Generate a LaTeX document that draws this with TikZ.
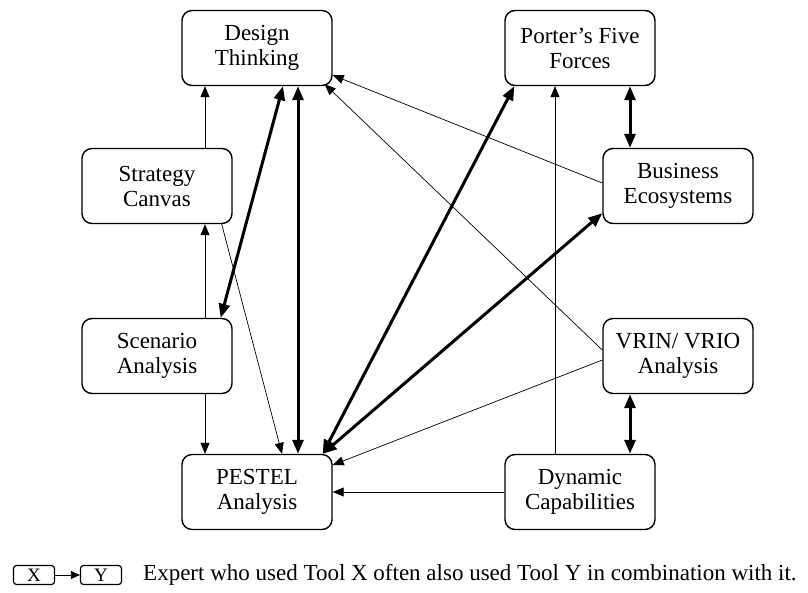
\documentclass[tikz,border=0pt]{standalone}
\usepackage{fontspec}
\setmainfont{Liberation Serif}
\usetikzlibrary{arrows.meta,positioning}
\tikzset{tool/.style={draw,line width=1.4pt,rounded corners=10pt,align=center,minimum width=150pt,minimum height=75pt,inner sep=2pt,font=\fontsize{23}{25}\selectfont},
  key/.style={draw,line width=1.2pt,rounded corners=3pt,minimum width=41pt,minimum height=19pt,inner sep=0pt,font=\fontsize{19}{20}\selectfont},
  thin/.style={-{Triangle[length=11pt,width=9pt]},line width=0.7pt},
  thick2/.style={{Triangle[length=14pt,width=11pt]}-{Triangle[length=14pt,width=11pt]},line width=3pt}}

\begin{document}
\begin{tikzpicture}[x=1pt,y=-1pt]
\useasboundingbox (0,0) rectangle (808,592);
% tools
\node[tool] (dt) at (257,48) {Design\\Thinking};
\node[tool] (pff) at (580,48) {Porter’s Five\\Forces};
\node[tool] (sc) at (157,186) {Strategy\\Canvas};
\node[tool] (be) at (678,186) {Business\\Ecosystems};
\node[tool] (sa) at (157,356) {Scenario\\Analysis};
\node[tool] (vrio) at (678,356) {VRIN/ VRIO\\Analysis};
\node[tool] (pestel) at (257,492) {PESTEL\\Analysis};
\node[tool] (dc) at (580,492) {Dynamic\\Capabilities};
% one-way links
\draw[thin] ([xshift=48pt]sc.north) -- ([xshift=48pt]sc.north |- dt.south);
\draw[thin] ([xshift=48pt]sa.north) -- ([xshift=48pt]sc.south);
\draw[thin] ([xshift=48pt]sa.south) -- ([xshift=48pt]sa.south |- pestel.north);
\draw[thin] ([xshift=-11pt]sc.south east) -- ([xshift=25pt]pestel.north);
\draw[thin] ([yshift=3pt]be.west) -- ([yshift=11pt]dt.south east);
\draw[thin] ([yshift=6pt]vrio.west) -- ([xshift=-8pt,yshift=2pt]dt.south east);
\draw[thin] ([yshift=-4pt]vrio.west) -- ([yshift=27pt]pestel.east);
\draw[thin] (dc.west) -- (pestel.east);
\draw[thin] ([xshift=-25pt]dc.north) -- ([xshift=-25pt]dc.north |- pff.south);
% two-way links
\draw[thick2] ([xshift=26pt]dt.south) -- ([xshift=-12pt]sa.north east);
\draw[thick2] ([xshift=41pt]dt.south) -- ([xshift=41pt]pestel.north);
\draw[thick2] ([xshift=-10pt]pestel.north east) -- ([xshift=10pt]pff.south west);
\draw[thick2] ([xshift=-10pt]pestel.north east) -- ([yshift=11pt]be.south west);
\draw[thick2] ([xshift=50pt]pff.south) -- ([xshift=50pt]pff.south |- be.north);
\draw[thick2] ([xshift=-48pt]vrio.south) -- ([xshift=-48pt]vrio.south |- dc.north);
% legend
\node[key] (kx) at (34,575) {X};
\node[key] (ky) at (101,575) {Y};
\draw[thin,-{Triangle[length=9pt,width=8pt]}] (kx) -- (ky);
\node[anchor=west,inner sep=0pt,font=\fontsize{23}{25}\selectfont] (keytext) at (143,575) {Expert who used Tool X often also used Tool Y in combination with it.};
\end{tikzpicture}
\end{document}
